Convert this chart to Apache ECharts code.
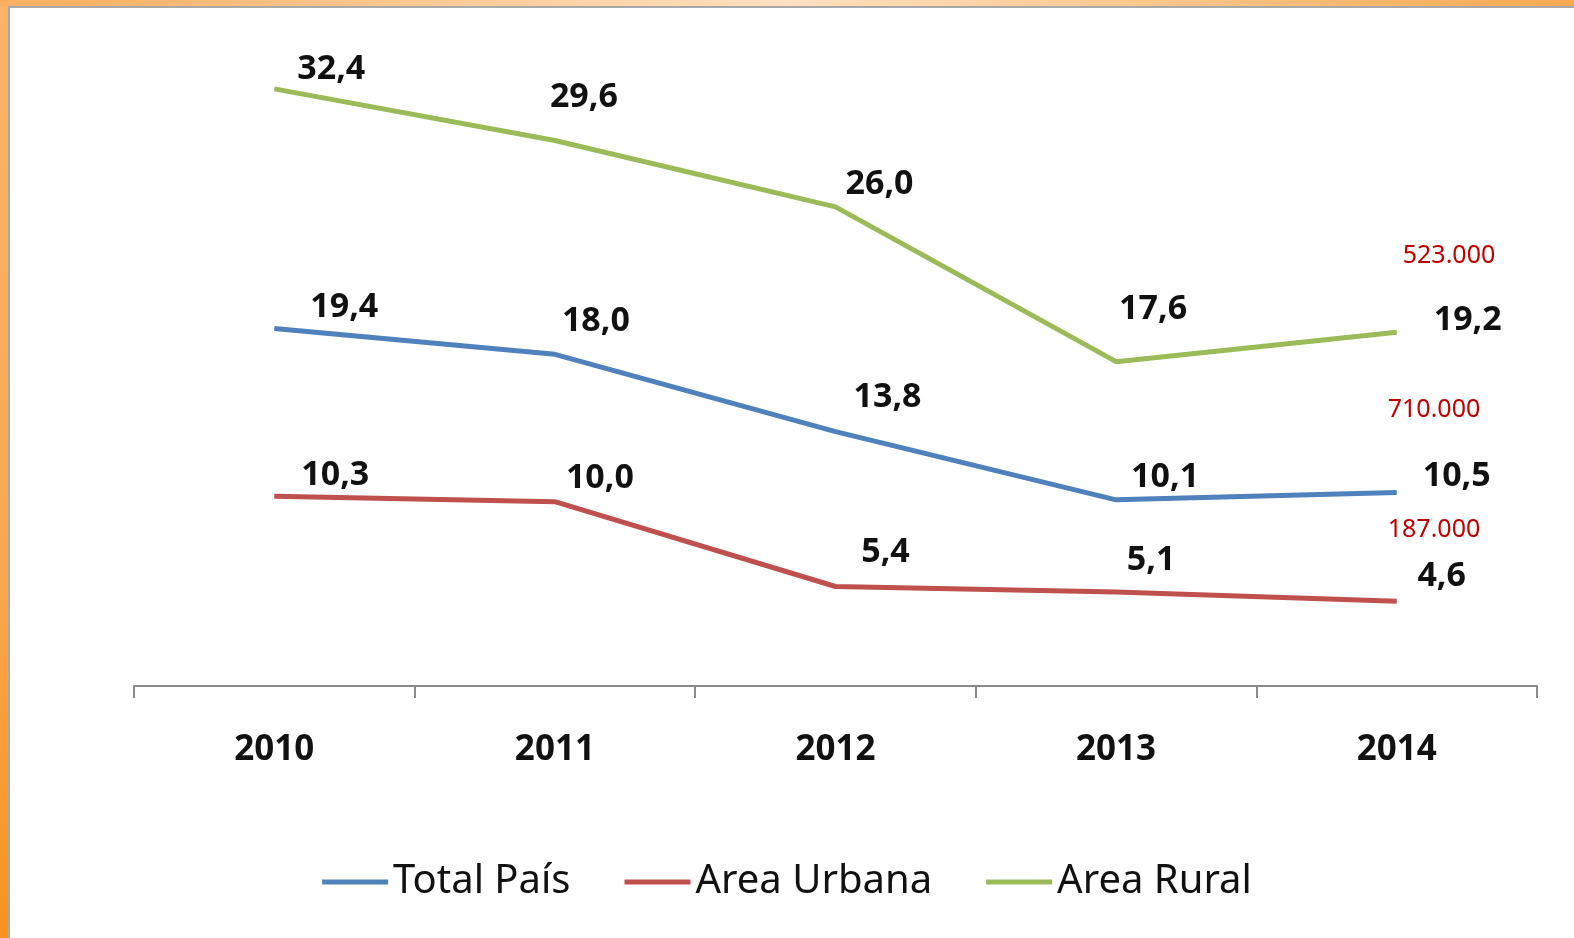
<!DOCTYPE html>
<html>
<head>
<meta charset="utf-8">
<script src="https://cdn.jsdelivr.net/npm/echarts@6/dist/echarts.min.js"></script>
<style>
  html, body { margin: 0; padding: 0; background: #fff; }
  #chart { width: 1574px; height: 938px; }
</style>
</head>
<body>
<div id="chart"></div>
<script>
const years = ["2010", "2011", "2012", "2013", "2014"];
const totalPais = [19.4, 18.0, 13.8, 10.1, 10.5];
const areaUrbana = [10.3, 10.0, 5.4, 5.1, 4.6];
const areaRural = [32.4, 29.6, 26.0, 17.6, 19.2];
const notes = ["523.000", "710.000", "187.000"];

// where each value label sits relative to its point (label centre)
const offTotal = [[70, -21], [41, -33], [52, -34], [49, -23], [60, -16]];
const offUrbana = [[61, -21], [45, -23], [50, -34], [35, -32], [45, -25]];
const offRural = [[57, -20], [29, -43], [44, -23], [37, -52], [71, -12]];

const chart = echarts.init(document.getElementById("chart"));

function fmt(v) {
  return v.toFixed(1).replace(".", ",");
}

function makeSeries(name, values, offsets, color) {
  return {
    name,
    type: "line",
    symbol: "circle",
    symbolSize: 1,
    itemStyle: { color },
    lineStyle: { width: 5, color },
    label: {
      show: true,
      position: "inside",
      align: "center",
      verticalAlign: "middle",
      fontFamily: "Noto Sans",
      fontWeight: "bold",
      fontSize: 34,
      color: "#111",
      formatter: (p) => fmt(p.value),
    },
    data: values.map((v, i) => ({ value: v, label: { offset: offsets[i] } })),
  };
}

chart.setOption({
  animation: false,
  backgroundColor: "#fff",
  graphic: [
    {
      type: "rect",
      shape: { x: 0, y: 0, width: 8, height: 938 },
      style: {
        fill: new echarts.graphic.LinearGradient(0, 0, 0, 1, [
          { offset: 0, color: "#fbb46a" },
          { offset: 0.6, color: "#f9a850" },
          { offset: 1, color: "#f7931e" },
        ]),
      },
    },
    {
      type: "rect",
      shape: { x: 0, y: 0, width: 1574, height: 6 },
      style: {
        fill: new echarts.graphic.LinearGradient(0, 0, 1, 0, [
          { offset: 0, color: "#fbae5e" },
          { offset: 0.5, color: "#fde0c0" },
          { offset: 1, color: "#f9a94f" },
        ]),
      },
    },
    {
      type: "polyline",
      shape: { points: [[9, 938], [9, 7], [1574, 7]] },
      style: { stroke: "#a8a8a8", lineWidth: 2, fill: null },
    },
    ...notes.map((t, i) => ({
      type: "text",
      x: [1449, 1434, 1434][i],
      y: [256, 410, 530][i],
      style: {
        text: t,
        fill: "#c00000",
        font: "25px 'Noto Sans'",
        align: "center",
        verticalAlign: "middle",
      },
    })),
  ],
  legend: {
    top: 857,
    left: "center",
    icon: "rect",
    itemWidth: 66,
    itemHeight: 5,
    itemGap: 54,
    textStyle: { fontFamily: "Noto Sans", fontSize: 40, color: "#111" },
    data: ["Total País", "Area Urbana", "Area Rural"],
  },
  grid: { left: 134, right: 37, top: 41, bottom: 252 },
  xAxis: {
    type: "category",
    data: years,
    boundaryGap: true,
    axisLine: { lineStyle: { color: "#8a8a8a", width: 2 } },
    axisTick: { show: true, length: 12, lineStyle: { color: "#8a8a8a", width: 2 } },
    axisLabel: {
      margin: 47,
      fontFamily: "Noto Sans",
      fontWeight: "bold",
      fontSize: 35,
      color: "#111",
    },
  },
  yAxis: {
    type: "value",
    min: 0,
    max: 35,
    show: false,
    splitLine: { show: false },
  },
  series: [
    makeSeries("Total País", totalPais, offTotal, "#4f81bd"),
    makeSeries("Area Urbana", areaUrbana, offUrbana, "#c0504d"),
    makeSeries("Area Rural", areaRural, offRural, "#9bbb59"),
  ],
});
</script>
</body>
</html>
